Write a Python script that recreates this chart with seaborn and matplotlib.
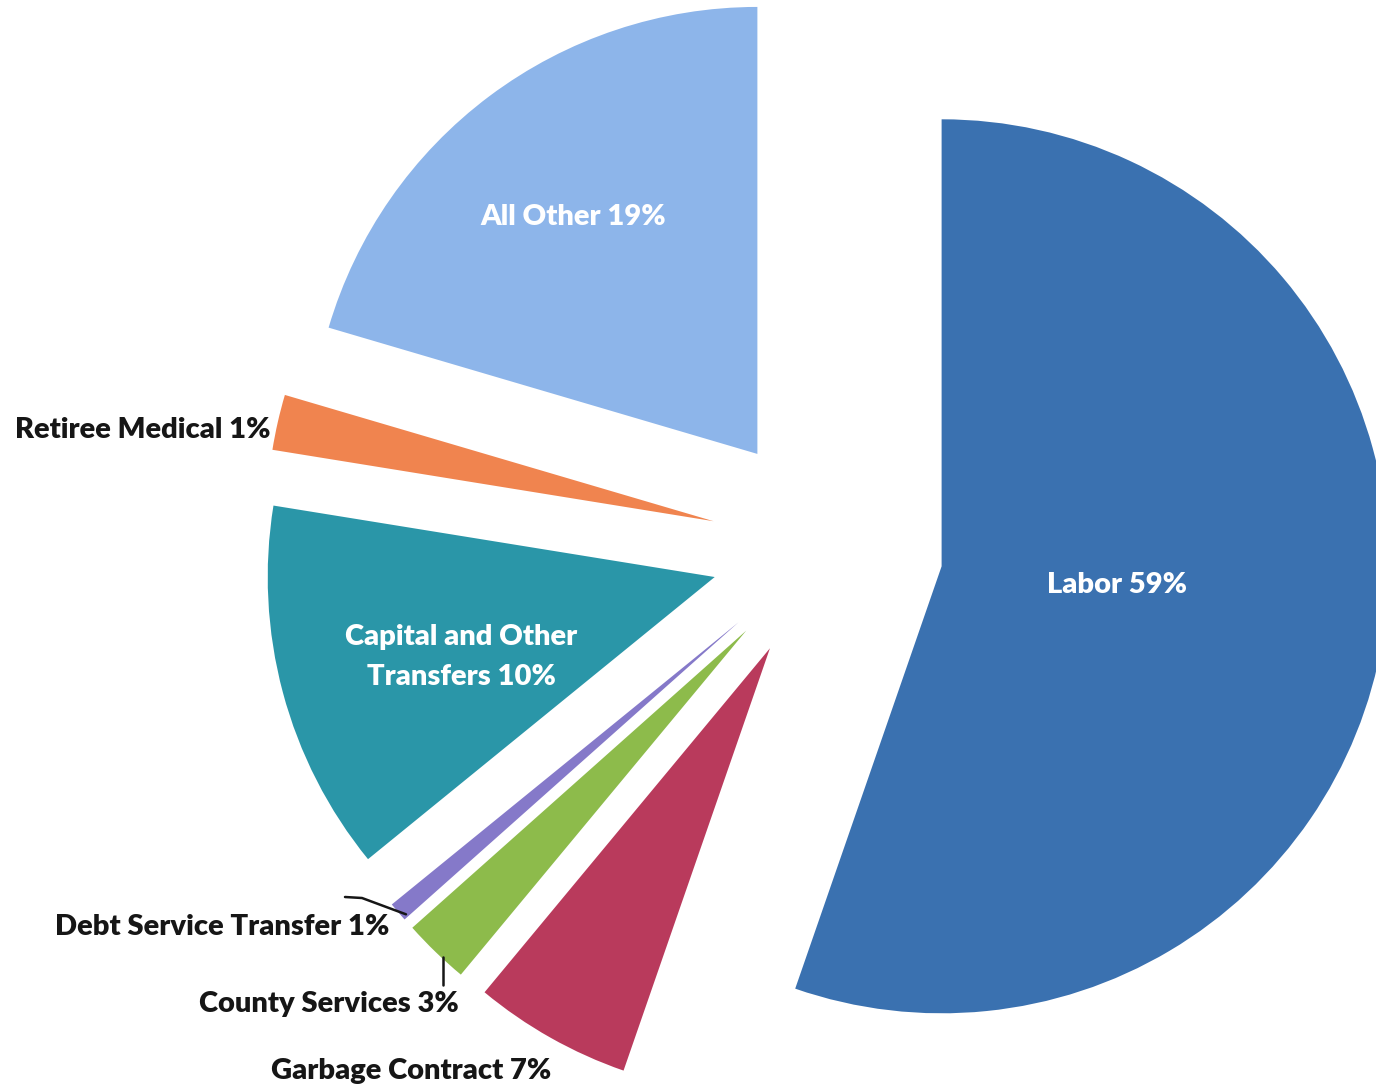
import numpy as np
import matplotlib
matplotlib.use("Agg")
import matplotlib.pyplot as plt
import seaborn as sns

# slice sizes as drawn (clockwise from 12 o'clock)
categories = ["Labor", "Garbage Contract", "County Services", "Debt Service Transfer",
              "Capital and Other Transfers", "Retiree Medical", "All Other"]
shares = [55.2, 5.7, 2.4, 0.7, 13.4, 2.0, 20.4]
label_text = ["Labor 59%", "Garbage Contract 7%", "County Services 3%", "Debt Service Transfer 1%",
              "Capital and Other\nTransfers 10%", "Retiree Medical 1%", "All Other 19%"]
colors = ["#3A71B0", "#B93A5C", "#8DBB4B", "#8579C9", "#2A96A8", "#F0844F", "#8DB5EA"]

sns.set_style("white")
plt.rcParams["font.family"] = ["Lato", "DejaVu Sans"]

fig = plt.figure(figsize=(13.76, 10.9), dpi=100)
ax = fig.add_axes([0, 0, 1, 1])

wedges, _ = ax.pie(shares, colors=colors, startangle=90, counterclock=False,
                   explode=[0.26] * len(shares), radius=1.0,
                   wedgeprops=dict(linewidth=0))

# pixel -> data mapping (pie centre at px 827,547 ; 447 px per radius)
cx, cy, s = 827, 547, 447
def P(px, py):
    return ((px - cx) / s, (cy - py) / s)

ax.set_xlim(P(0, 0)[0], P(1376, 0)[0])
ax.set_ylim(P(0, 1090)[1], P(0, 0)[1])
ax.set_aspect("equal")
ax.axis("off")

fs = 21
wt = "heavy"
dark = "#161616"
# labels inside slices
ax.text(*P(1117, 585), label_text[0], color="white", fontsize=fs, fontweight=wt, ha="center", va="center")
ax.text(*P(573, 217), label_text[6], color="white", fontsize=fs, fontweight=wt, ha="center", va="center")
ax.text(*P(461, 657), label_text[4], color="white", fontsize=fs, fontweight=wt, ha="center", va="center",
        linespacing=1.65)

# outside labels
ax.text(*P(143, 430), label_text[5], color=dark, fontsize=fs, fontweight=wt, ha="center", va="center")
ax.text(*P(222, 927), label_text[3], color=dark, fontsize=fs, fontweight=wt, ha="center", va="center")
ax.text(*P(329, 1004), label_text[2], color=dark, fontsize=fs, fontweight=wt, ha="center", va="center")
ax.text(*P(411, 1071), label_text[1], color=dark, fontsize=fs, fontweight=wt, ha="center", va="center")

# leader lines to the small slices
def outer_point(w, frac=0.5, r=1.0):
    th = np.deg2rad(w.theta1 + frac * (w.theta2 - w.theta1))
    return (w.center[0] + r * w.r * np.cos(th), w.center[1] + r * w.r * np.sin(th))

dx, dy = outer_point(wedges[3], 0.85, 0.99)
ax.plot([P(345, 897)[0], P(362, 898)[0], dx], [P(345, 897)[1], P(362, 898)[1], dy],
        color=dark, lw=1.8)
ax.plot([P(443, 957)[0], P(443, 985)[0]], [P(443, 957)[1], P(443, 985)[1]],
        color=dark, lw=1.8)

fig.savefig("out.png", dpi=100, facecolor="white")
